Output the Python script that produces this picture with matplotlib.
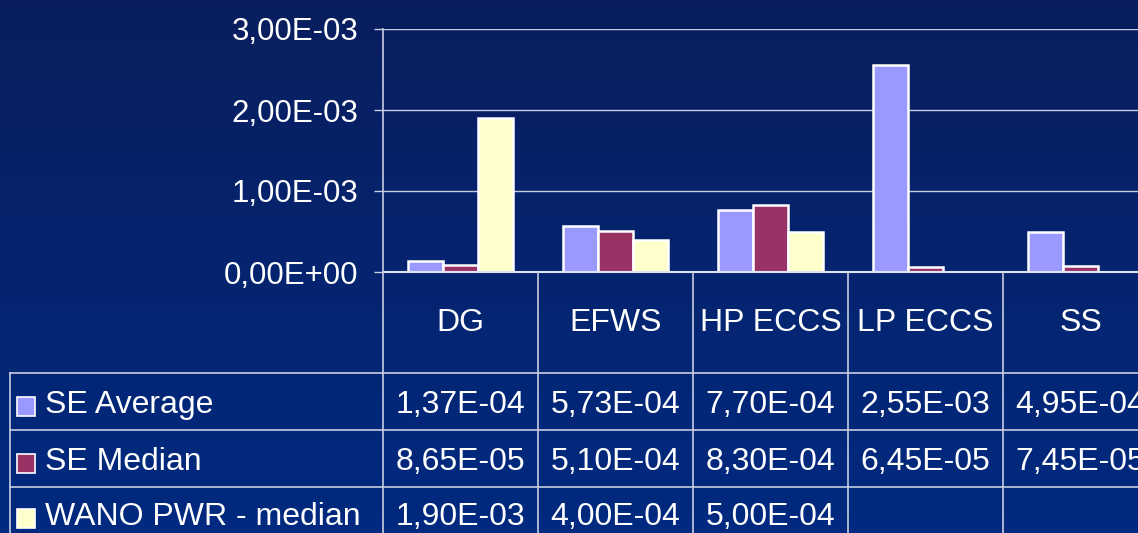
import numpy as np
import matplotlib
matplotlib.use("Agg")
import matplotlib.pyplot as plt
import matplotlib.transforms as mtransforms
from matplotlib.patches import Rectangle
from matplotlib.lines import Line2D
from matplotlib.colors import LinearSegmentedColormap

# ---- data ----
categories = ["DG", "EFWS", "HP ECCS", "LP ECCS", "SS"]
series_names = ["SE Average", "SE Median", "WANO PWR - median"]
se_average = [1.37e-4, 5.73e-4, 7.70e-4, 2.55e-3, 4.95e-4]
se_median = [8.65e-5, 5.10e-4, 8.30e-4, 6.45e-5, 7.45e-5]
wano_median = [1.90e-3, 4.00e-4, 5.00e-4, None, None]
se_average_txt = ["1,37E-04", "5,73E-04", "7,70E-04", "2,55E-03", "4,95E-04"]
se_median_txt = ["8,65E-05", "5,10E-04", "8,30E-04", "6,45E-05", "7,45E-05"]
wano_median_txt = ["1,90E-03", "4,00E-04", "5,00E-04", "", ""]
y_ticks = [0.0, 1e-3, 2e-3, 3e-3]
y_tick_labels = ["0,00E+00", "1,00E-03", "2,00E-03", "3,00E-03"]

colors = ["#9999FF", "#993366", "#FFFFCC"]
series = [se_average, se_median, wano_median]
series_txt = [se_average_txt, se_median_txt, wano_median_txt]

W, H = 1138, 533
plt.rcParams['font.family'] = ['Liberation Sans', 'DejaVu Sans']
fig = plt.figure(figsize=(W / 100, H / 100), dpi=100)

def fx(x):
    return x / W

def fy(y):
    return 1 - y / H

# background gradient
bg = fig.add_axes([0, 0, 1, 1], zorder=-10)
grad = np.linspace(0, 1, 256)[:, None]
cmap = LinearSegmentedColormap.from_list("bg", ["#0a1e5e", "#002a80"])
bg.imshow(grad, aspect="auto", cmap=cmap, extent=[0, 1, 0, 1], origin="upper")
bg.set_axis_off()

# plot axes: x from 383 to 1158 px, y from 29 to 272 px
ax_left, ax_right, ax_top, ax_bot = 383, 1158, 29, 272
ax = fig.add_axes([fx(ax_left), fy(ax_bot), fx(ax_right - ax_left), (ax_bot - ax_top) / H])
ax.patch.set_alpha(0)
ax.set_xlim(-0.5, len(categories) - 0.5)
ax.set_ylim(0, 3e-3)

line_col = "#c8cce0"
bw = 0.225
x = np.arange(len(categories))
for k, (vals, c) in enumerate(zip(series, colors)):
    xs = [xi + (k - 1) * bw for xi, v in zip(x, vals) if v is not None]
    hs = [v for v in vals if v is not None]
    ax.bar(xs, hs, width=bw, color=c, edgecolor="white", linewidth=1.8, zorder=3)

for t in y_ticks[1:]:
    ax.axhline(t, color=line_col, linewidth=1.0, zorder=1)
ax.set_yticks(y_ticks)
ax.set_yticklabels(y_tick_labels, color="white", fontsize=22.5)
ax.tick_params(axis="y", length=6.5, width=1.0, color=line_col, pad=11)
ax.set_xticks([])
for s in ["top", "right", "bottom"]:
    ax.spines[s].set_visible(False)
ax.spines["left"].set_color(line_col)
ax.spines["left"].set_linewidth(1.2)

# ---- data table ----
trans = mtransforms.blended_transform_factory(ax.transData, fig.transFigure)
row_lines = [373, 430, 487, 543]
row_baselines = [413, 470, 525]
fig.add_artist(Line2D([fx(ax_left), 1], [fy(272), fy(272)], color="#e0e4f0", lw=1.5))
fig.add_artist(Line2D([fx(ax_left), fx(ax_left)], [fy(272), 0], color=line_col, lw=1.2))
for i in range(1, len(categories) + 1):
    fig.add_artist(Line2D([i - 0.5, i - 0.5], [fy(272), 0], transform=trans, color=line_col, lw=1.2))
for r in row_lines[:3]:
    fig.add_artist(Line2D([fx(10), 1], [fy(r), fy(r)], color=line_col, lw=1.2))
fig.add_artist(Line2D([fx(10), fx(10)], [fy(373), 0], color=line_col, lw=1.2))

fs_tab = 23
for i, cat in enumerate(categories):
    fig.text(i, fy(331), cat, transform=trans, ha="center", va="baseline",
             color="white", fontsize=fs_tab)

for r, (name, txts, c) in enumerate(zip(series_names, series_txt, colors)):
    yb = row_baselines[r]
    fig.add_artist(Rectangle((fx(17), fy(yb + 3)), fx(18), 19 / H, facecolor=c,
                             edgecolor="white", linewidth=1.2))
    fig.text(fx(45), fy(yb), name, ha="left", va="baseline", color="white", fontsize=fs_tab)
    for i, t in enumerate(txts):
        if t:
            fig.text(i, fy(yb), t, transform=trans, ha="center", va="baseline",
                     color="white", fontsize=fs_tab)

fig.savefig("out.png", dpi=100)
